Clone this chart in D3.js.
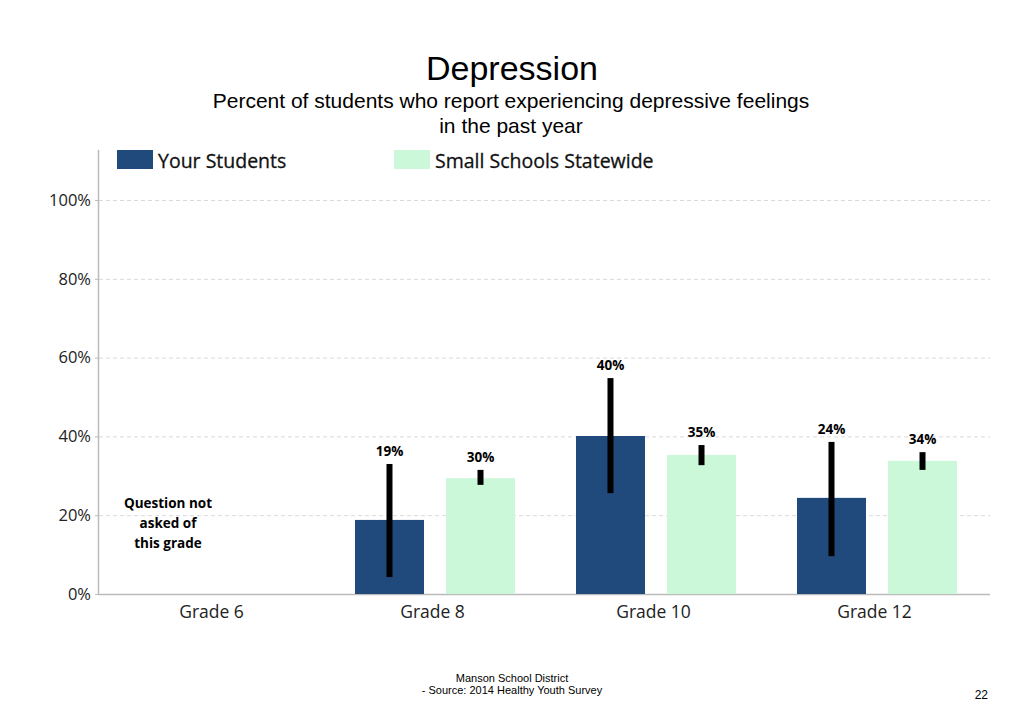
<!DOCTYPE html>
<html><head><meta charset="utf-8">
<script src="https://cdn.jsdelivr.net/npm/d3@7"></script>
<style>body{margin:0;background:#fff}svg{display:block}</style>
</head><body>
<svg id="c" width="1024" height="727"></svg>
<script>
const grades = ["Grade 6", "Grade 8", "Grade 10", "Grade 12"];
const seriesNames = ["Your Students", "Small Schools Statewide"];
const yourValues = [null, 19, 40, 24];
const yourShown = [null, 18.8, 40.1, 24.4];
const yourLow = [null, 4.3, 25.6, 9.6];
const yourHigh = [null, 33, 54.8, 38.6];
const stateValues = [null, 30, 35, 34];
const stateShown = [null, 29.4, 35.3, 33.8];
const stateLow = [null, 27.7, 32.7, 31.5];
const stateHigh = [null, 31.5, 37.8, 36.0];
const yTicks = [0, 20, 40, 60, 80, 100];
const colors = ["#204a7b", "#ccf8da"];

const svg = d3.select("#c");
const left = 99, right = 990, base = 594;
const y = d3.scaleLinear().domain([0, 100]).range([base, 200]);
const x = d3.scaleBand().domain(grades).range([101, 985]);
const xs = d3.scaleBand().domain(seriesNames).range([33, 193]).paddingInner(0.242);

// Title
svg.append("text").attr("x", 512).attr("y", 80).attr("text-anchor", "middle")
  .style("font-family", "Liberation Sans, Arial, sans-serif").style("font-size", "34px").text("Depression");
svg.append("text").attr("x", 511).attr("y", 108).attr("text-anchor", "middle")
  .style("font-family", "Liberation Sans, Arial, sans-serif").style("font-size", "21px")
  .text("Percent of students who report experiencing depressive feelings");
svg.append("text").attr("x", 511).attr("y", 133).attr("text-anchor", "middle")
  .style("font-family", "Liberation Sans, Arial, sans-serif").style("font-size", "21px")
  .text("in the past year");

// gridlines
svg.append("g").selectAll("line").data(yTicks.filter(d => d > 0)).join("line")
  .attr("x1", left).attr("x2", right).attr("y1", d => y(d) + 0.5).attr("y2", d => y(d) + 0.5)
  .attr("stroke", "#d9d9d9").attr("stroke-dasharray", "4,3");

// y axis
const yAxis = d3.axisLeft(y).tickValues(yTicks).tickFormat(d => d + "%").tickSize(4).tickPadding(4);
const gy = svg.append("g").attr("transform", `translate(${left},0)`).call(yAxis);
gy.select(".domain").remove();
gy.selectAll(".tick line").attr("stroke", "#bbb");
gy.selectAll("text").style("font-family", "Open Sans, sans-serif").style("font-size", "16.5px").attr("fill", "#222");
svg.append("line").attr("x1", left - 0.5).attr("x2", left - 0.5).attr("y1", 150).attr("y2", base)
  .attr("stroke", "#bbb").attr("stroke-width", 1.5);

// x axis
const xAxis = d3.axisBottom(x).tickSize(0).tickPadding(12);
const gx = svg.append("g").attr("transform", `translate(0,${base})`).call(xAxis);
gx.select(".domain").remove();
svg.append("line").attr("x1", left).attr("x2", right).attr("y1", base + 0.5).attr("y2", base + 0.5)
  .attr("stroke", "#bbb").attr("stroke-width", 1.5);
gx.selectAll("text").style("font-family", "Open Sans, sans-serif").style("font-size", "17.5px").attr("fill", "#222");

// bars
const rows = grades.map((g, i) => ({
  g,
  items: [
    {s: seriesNames[0], v: yourValues[i], h: yourShown[i], lo: yourLow[i], hi: yourHigh[i], c: colors[0]},
    {s: seriesNames[1], v: stateValues[i], h: stateShown[i], lo: stateLow[i], hi: stateHigh[i], c: colors[1]}
  ].filter(d => d.v !== null)
}));
const grp = svg.append("g").selectAll("g").data(rows).join("g")
  .attr("transform", d => `translate(${x(d.g)},0)`);
grp.selectAll("rect.bar").data(d => d.items).join("rect").attr("class", "bar")
  .attr("x", d => xs(d.s)).attr("width", xs.bandwidth())
  .attr("y", d => y(d.h)).attr("height", d => base - y(d.h)).attr("fill", d => d.c);
grp.selectAll("rect.err").data(d => d.items).join("rect").attr("class", "err")
  .attr("x", d => xs(d.s) + xs.bandwidth() / 2 - 3).attr("width", 6)
  .attr("y", d => y(d.hi)).attr("height", d => y(d.lo) - y(d.hi)).attr("fill", "#000");
grp.selectAll("text.lbl").data(d => d.items).join("text").attr("class", "lbl")
  .attr("x", d => xs(d.s) + xs.bandwidth() / 2).attr("y", d => y(d.hi) - 8)
  .attr("text-anchor", "middle").style("font-family", "Open Sans, sans-serif")
  .style("font-size", "13.5px").style("font-weight", "bold").text(d => d.v + "%");

// Question not asked note
const note = ["Question not", "asked of", "this grade"];
svg.append("g").selectAll("text").data(note).join("text")
  .attr("x", 168).attr("y", (d, i) => 508 + i * 20).attr("text-anchor", "middle")
  .style("font-family", "Open Sans, sans-serif").style("font-size", "13.5px").style("font-weight", "bold")
  .text(d => d);

// legend
const leg = svg.append("g").selectAll("g").data(seriesNames).join("g")
  .attr("transform", (d, i) => `translate(${[117, 394][i]},150)`);
leg.append("rect").attr("width", 36).attr("height", 19).attr("fill", (d, i) => colors[i]);
leg.append("text").attr("x", 41).attr("y", 18).style("font-family", "Open Sans, sans-serif")
  .style("font-size", "19.5px").attr("fill", "#111").attr("stroke", "#111").attr("stroke-width", 0.3)
  .text(d => d);

// footer
svg.append("text").attr("x", 512).attr("y", 682).attr("text-anchor", "middle")
  .style("font-family", "Liberation Sans, Arial, sans-serif").style("font-size", "11px").text("Manson School District");
svg.append("text").attr("x", 512).attr("y", 694).attr("text-anchor", "middle")
  .style("font-family", "Liberation Sans, Arial, sans-serif").style("font-size", "11px").text("- Source: 2014 Healthy Youth Survey");
svg.append("text").attr("x", 988).attr("y", 699).attr("text-anchor", "end")
  .style("font-family", "Liberation Sans, Arial, sans-serif").style("font-size", "12px").text("22");
</script>
</body></html>
